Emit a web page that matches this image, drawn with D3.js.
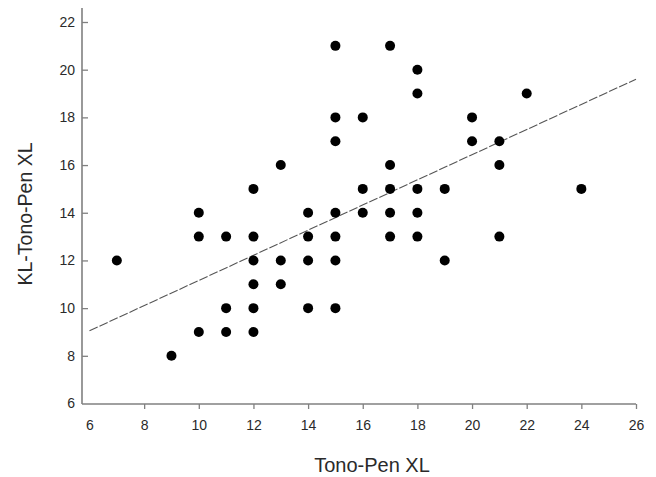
<!DOCTYPE html>
<html>
<head>
<meta charset="utf-8">
<script src="https://cdn.jsdelivr.net/npm/d3@7"></script>
<style>
    body { margin: 0; background: #fff; }
    text { font-family: Arial, "Liberation Sans", sans-serif; }
</style>
</head>
<body>
<div id="chart-container"></div>
<script>
// Tono-Pen XL readings (x) vs KL-Tono-Pen XL readings (y)
const xValues = [7, 9, 10, 10, 10, 11, 11, 11, 12, 12, 12, 12, 12, 12, 13, 13, 13,
    14, 14, 14, 14, 15, 15, 15, 15, 15, 15, 15, 16, 16, 16, 17, 17, 17, 17, 17,
    18, 18, 18, 18, 18, 19, 19, 20, 20, 21, 21, 21, 22, 24];
const yValues = [12, 8, 14, 13, 9, 13, 10, 9, 15, 13, 12, 11, 10, 9, 16, 12, 11,
    14, 13, 12, 10, 21, 18, 17, 14, 13, 12, 10, 18, 15, 14, 21, 16, 15, 14, 13,
    20, 19, 15, 14, 13, 15, 12, 18, 17, 17, 16, 13, 19, 15];

// regression line end points
const fitX = [6, 26];
const fitY = [9.05, 19.6];

const xTicks = [6, 8, 10, 12, 14, 16, 18, 20, 22, 24, 26];
const yTicks = [6, 8, 10, 12, 14, 16, 18, 20, 22];

const width = 656, height = 477;
const axisX = 82, axisY = 404;

const svg = d3.select('#chart-container')
    .append('svg')
    .attr('width', width)
    .attr('height', height);

const x = d3.scaleLinear().domain([6, 26]).range([89.5, 636]);
const y = d3.scaleLinear().domain([6, 22]).range([403.5, 22]);

const axisColor = '#808080';
const labelColor = '#2a2a2a';

// axis lines
svg.append('line')
    .attr('x1', axisX).attr('x2', axisX)
    .attr('y1', 8).attr('y2', axisY)
    .attr('stroke', axisColor).attr('stroke-width', 1.6);
svg.append('line')
    .attr('x1', axisX).attr('x2', x(26))
    .attr('y1', axisY).attr('y2', axisY)
    .attr('stroke', axisColor).attr('stroke-width', 1.6);

// x axis ticks
const gx = svg.append('g')
    .attr('transform', `translate(0,${axisY})`)
    .call(d3.axisBottom(x).tickValues(xTicks).tickSize(5).tickPadding(11))
    .call(g => g.select('.domain').remove())
    .attr('font-size', 14)
    .attr('font-family', null);
gx.selectAll('line').attr('stroke', axisColor).attr('stroke-width', 1.3);
gx.selectAll('text').attr('fill', labelColor);
gx.selectAll('.tick').filter(d => d === 6).select('line').remove();

// y axis ticks (pointing inward)
const gy = svg.append('g')
    .attr('transform', `translate(${axisX},0)`)
    .call(d3.axisLeft(y).tickValues(yTicks).tickSizeInner(-6).tickSizeOuter(0).tickPadding(7))
    .call(g => g.select('.domain').remove())
    .attr('font-size', 14)
    .attr('font-family', null);
gy.selectAll('line').attr('stroke', axisColor).attr('stroke-width', 1.3);
gy.selectAll('text').attr('fill', labelColor);
gy.selectAll('.tick').filter(d => d === 6).select('line').remove();

// regression line
svg.append('line')
    .attr('x1', x(fitX[0])).attr('y1', y(fitY[0]))
    .attr('x2', x(fitX[1])).attr('y2', y(fitY[1]))
    .attr('stroke', '#555')
    .attr('stroke-width', 1.1)
    .attr('stroke-dasharray', '9,2');

// points
svg.selectAll('.dot')
    .data(xValues.map((v, i) => ({ x: v, y: yValues[i] })))
    .enter()
    .append('circle')
    .attr('class', 'dot')
    .attr('cx', d => x(d.x))
    .attr('cy', d => y(d.y))
    .attr('r', 5)
    .attr('fill', '#000');

// axis titles
svg.append('text')
    .attr('x', 372)
    .attr('y', 472)
    .attr('text-anchor', 'middle')
    .attr('fill', labelColor)
    .style('font-size', '20px')
    .text('Tono-Pen XL');

svg.append('text')
    .attr('transform', 'translate(32,214) rotate(-90)')
    .attr('text-anchor', 'middle')
    .attr('fill', labelColor)
    .style('font-size', '19.5px')
    .text('KL-Tono-Pen XL');
</script>
</body>
</html>
